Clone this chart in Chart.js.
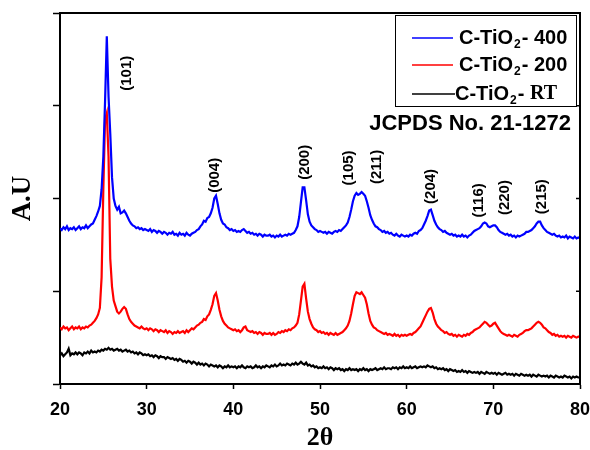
<!DOCTYPE html>
<html>
<head>
<meta charset="utf-8">
<script src="https://cdn.jsdelivr.net/npm/chart.js@4.4.0/dist/chart.umd.min.js"></script>
<style>
  body { margin: 0; background: #fff; }
  canvas { display: block; }
</style>
</head>
<body>
<canvas id="xrd" width="590" height="450"></canvas>
<script>
// 2-theta sampling grid, 20..80 deg every 0.2 deg
const twoTheta = [];
for (let i = 0; i <= 300; i++) twoTheta.push(+(20 + i * 0.2).toFixed(1));

// intensities (arbitrary units, stacked)
const c400 = [
  1.68,1.66,1.69,1.67,1.70,1.66,1.68,1.67,1.69,1.66,
  1.68,1.70,1.67,1.69,1.68,1.71,1.68,1.70,1.72,1.73,
  1.77,1.81,1.86,1.92,2.10,2.45,3.05,3.75,3.10,2.70,
  2.23,2.00,1.92,1.88,1.91,1.84,1.85,1.87,1.84,1.80,
  1.76,1.73,1.71,1.70,1.68,1.69,1.67,1.68,1.66,1.67,
  1.66,1.65,1.67,1.64,1.66,1.65,1.63,1.65,1.64,1.62,
  1.64,1.63,1.61,1.63,1.62,1.64,1.61,1.62,1.60,1.63,
  1.61,1.62,1.60,1.63,1.61,1.60,1.62,1.63,1.64,1.66,
  1.67,1.70,1.72,1.76,1.75,1.79,1.80,1.84,1.90,2.00,
  2.03,1.94,1.84,1.77,1.73,1.72,1.69,1.68,1.66,1.67,
  1.65,1.66,1.64,1.65,1.64,1.66,1.67,1.65,1.63,1.64,
  1.62,1.63,1.61,1.62,1.60,1.62,1.61,1.59,1.61,1.60,
  1.60,1.61,1.59,1.60,1.58,1.60,1.59,1.61,1.59,1.60,
  1.61,1.60,1.62,1.61,1.62,1.63,1.66,1.70,1.80,1.96,
  2.12,2.12,1.98,1.83,1.75,1.71,1.69,1.67,1.66,1.64,
  1.65,1.64,1.63,1.64,1.62,1.64,1.63,1.62,1.64,1.65,
  1.64,1.66,1.65,1.67,1.69,1.71,1.74,1.80,1.88,1.97,
  2.03,2.06,2.04,2.05,2.07,2.05,2.03,1.97,1.90,1.82,
  1.77,1.73,1.70,1.69,1.67,1.66,1.64,1.65,1.63,1.64,
  1.62,1.63,1.61,1.60,1.62,1.60,1.59,1.61,1.60,1.59,
  1.60,1.59,1.61,1.60,1.62,1.63,1.62,1.65,1.66,1.68,
  1.72,1.76,1.81,1.87,1.88,1.82,1.76,1.72,1.69,1.67,
  1.66,1.64,1.65,1.63,1.62,1.61,1.62,1.60,1.61,1.59,
  1.60,1.59,1.61,1.59,1.60,1.58,1.60,1.61,1.63,1.65,
  1.66,1.67,1.68,1.70,1.73,1.74,1.73,1.70,1.69,1.70,
  1.71,1.71,1.69,1.66,1.64,1.63,1.62,1.61,1.62,1.60,
  1.61,1.59,1.60,1.58,1.60,1.59,1.60,1.61,1.62,1.64,
  1.64,1.65,1.66,1.68,1.70,1.73,1.75,1.75,1.71,1.68,
  1.66,1.64,1.63,1.62,1.61,1.62,1.60,1.59,1.60,1.58,
  1.59,1.58,1.60,1.57,1.59,1.58,1.57,1.59,1.57,1.58,
  1.57
];

const c200 = [
  0.61,0.59,0.62,0.60,0.61,0.58,0.60,0.62,0.59,0.61,
  0.60,0.62,0.59,0.61,0.60,0.62,0.61,0.63,0.64,0.66,
  0.68,0.71,0.75,0.82,1.15,2.10,2.85,2.92,2.45,1.35,
  1.05,0.90,0.84,0.78,0.76,0.78,0.81,0.83,0.81,0.75,
  0.70,0.67,0.65,0.63,0.62,0.61,0.60,0.62,0.60,0.59,
  0.60,0.58,0.60,0.59,0.57,0.59,0.58,0.56,0.58,0.57,
  0.56,0.58,0.55,0.57,0.56,0.54,0.56,0.55,0.57,0.55,
  0.56,0.57,0.55,0.58,0.56,0.58,0.60,0.59,0.61,0.63,
  0.64,0.66,0.67,0.70,0.69,0.73,0.75,0.80,0.86,0.95,
  0.98,0.90,0.80,0.73,0.68,0.65,0.63,0.61,0.60,0.59,
  0.58,0.59,0.57,0.58,0.56,0.58,0.61,0.62,0.58,0.57,
  0.56,0.57,0.55,0.56,0.54,0.56,0.55,0.53,0.55,0.54,
  0.54,0.55,0.53,0.55,0.53,0.54,0.56,0.55,0.57,0.56,
  0.58,0.57,0.59,0.58,0.60,0.61,0.63,0.66,0.75,0.90,
  1.05,1.08,0.92,0.78,0.70,0.65,0.61,0.59,0.58,0.56,
  0.57,0.55,0.56,0.54,0.55,0.53,0.55,0.54,0.53,0.55,
  0.53,0.54,0.55,0.56,0.58,0.60,0.63,0.68,0.76,0.86,
  0.95,0.99,0.98,0.97,0.99,0.96,0.93,0.86,0.76,0.68,
  0.64,0.61,0.60,0.58,0.57,0.56,0.55,0.54,0.55,0.53,
  0.54,0.53,0.52,0.54,0.52,0.53,0.51,0.53,0.52,0.53,
  0.52,0.53,0.54,0.53,0.55,0.56,0.58,0.60,0.62,0.66,
  0.70,0.74,0.78,0.81,0.82,0.77,0.70,0.65,0.62,0.60,
  0.58,0.57,0.55,0.56,0.54,0.53,0.54,0.52,0.53,0.51,
  0.53,0.52,0.51,0.53,0.52,0.54,0.53,0.55,0.56,0.58,
  0.59,0.60,0.61,0.63,0.65,0.67,0.66,0.64,0.62,0.63,
  0.65,0.66,0.63,0.60,0.57,0.55,0.54,0.53,0.52,0.53,
  0.52,0.51,0.53,0.52,0.51,0.53,0.54,0.55,0.57,0.58,
  0.58,0.59,0.60,0.62,0.64,0.66,0.67,0.66,0.64,0.61,
  0.60,0.58,0.56,0.55,0.53,0.54,0.52,0.53,0.51,0.52,
  0.51,0.52,0.50,0.52,0.51,0.50,0.52,0.51,0.50,0.51,
  0.51
];

const cRT = [
  0.31,0.33,0.30,0.32,0.34,0.38,0.31,0.33,0.32,0.34,
  0.32,0.34,0.33,0.31,0.34,0.33,0.35,0.33,0.36,0.34,
  0.35,0.34,0.36,0.35,0.37,0.36,0.38,0.37,0.39,0.37,
  0.38,0.36,0.37,0.38,0.36,0.37,0.35,0.36,0.37,0.35,
  0.36,0.34,0.35,0.33,0.34,0.32,0.34,0.33,0.31,0.32,
  0.31,0.32,0.30,0.31,0.29,0.31,0.30,0.28,0.30,0.29,
  0.29,0.27,0.29,0.28,0.27,0.28,0.26,0.27,0.25,0.27,
  0.26,0.24,0.25,0.23,0.25,0.24,0.22,0.24,0.23,0.21,
  0.23,0.21,0.22,0.20,0.22,0.21,0.19,0.21,0.20,0.19,
  0.20,0.18,0.20,0.19,0.17,0.19,0.18,0.20,0.18,0.19,
  0.18,0.19,0.17,0.19,0.18,0.20,0.18,0.17,0.19,0.18,
  0.19,0.17,0.18,0.20,0.18,0.19,0.17,0.19,0.18,0.20,
  0.19,0.18,0.20,0.19,0.21,0.19,0.20,0.22,0.20,0.21,
  0.20,0.22,0.21,0.20,0.22,0.21,0.23,0.21,0.22,0.24,
  0.22,0.21,0.23,0.20,0.21,0.19,0.20,0.18,0.19,0.17,
  0.18,0.17,0.19,0.17,0.18,0.16,0.18,0.17,0.15,0.17,
  0.16,0.17,0.15,0.16,0.14,0.16,0.15,0.17,0.15,0.16,
  0.15,0.16,0.14,0.16,0.15,0.17,0.15,0.16,0.14,0.16,
  0.15,0.16,0.17,0.15,0.16,0.17,0.16,0.18,0.16,0.17,
  0.17,0.16,0.18,0.17,0.18,0.16,0.18,0.17,0.19,0.17,
  0.18,0.17,0.19,0.17,0.18,0.19,0.17,0.18,0.19,0.18,
  0.19,0.18,0.20,0.19,0.18,0.19,0.17,0.18,0.16,0.17,
  0.16,0.17,0.15,0.16,0.14,0.16,0.15,0.14,0.15,0.13,
  0.14,0.13,0.15,0.13,0.14,0.12,0.14,0.13,0.12,0.13,
  0.12,0.13,0.11,0.13,0.12,0.11,0.13,0.12,0.11,0.12,
  0.11,0.12,0.10,0.12,0.11,0.10,0.11,0.12,0.10,0.11,
  0.10,0.11,0.09,0.11,0.10,0.09,0.11,0.10,0.09,0.10,
  0.09,0.10,0.08,0.10,0.09,0.08,0.10,0.09,0.08,0.09,
  0.08,0.09,0.07,0.09,0.08,0.07,0.09,0.08,0.07,0.08,
  0.07,0.09,0.08,0.07,0.08,0.06,0.08,0.07,0.08,0.07,
  0.07
];

const seriesLabels = ['C-TiO₂- 400', 'C-TiO₂- 200', 'C-TiO₂- RT'];
const seriesColors = ['#0000ff', '#ff0000', '#000000'];

// hkl reflections: label, 2-theta and height where the text sits
const hklLabels = ['(101)', '(004)', '(200)', '(105)', '(211)', '(204)', '(116)', '(220)', '(215)'];
const hklTheta  = [27.7, 37.85, 48.25, 53.35, 56.6, 62.8, 68.35, 71.35, 75.6];
const hklLevel  = [3.35, 2.25, 2.39, 2.33, 2.34, 2.13, 1.98, 2.01, 2.02];

const xTicks = [20, 30, 40, 50, 60, 70, 80];

const toPoints = ys => twoTheta.map((t, i) => ({ x: t, y: ys[i] }));

const SANS = 'Arial, "Liberation Sans", sans-serif';
const SERIF = '"Times New Roman", "Liberation Serif", serif';

// frame, legend box and the text annotations
const decorations = {
  id: 'decorations',
  afterDraw(chart) {
    const { ctx, chartArea: a, scales: { x, y } } = chart;
    ctx.save();

    // top + right border, short inward ticks on the right
    ctx.strokeStyle = '#000';
    ctx.lineWidth = 2;
    ctx.beginPath();
    ctx.moveTo(a.left, a.top);
    ctx.lineTo(a.right, a.top);
    ctx.lineTo(a.right, a.bottom);
    ctx.stroke();
    ctx.lineWidth = 1.5;
    [1, 2, 3].forEach(v => {
      const py = y.getPixelForValue(v);
      ctx.beginPath();
      ctx.moveTo(a.right - 4, py);
      ctx.lineTo(a.right, py);
      ctx.stroke();
    });

    // hkl labels, rotated
    ctx.fillStyle = '#000';
    ctx.font = 'bold 15px ' + SANS;
    ctx.textAlign = 'center';
    ctx.textBaseline = 'middle';
    hklLabels.forEach((txt, i) => {
      ctx.save();
      ctx.translate(x.getPixelForValue(hklTheta[i]), y.getPixelForValue(hklLevel[i]));
      ctx.rotate(-Math.PI / 2);
      ctx.fillText(txt, 0, 0);
      ctx.restore();
    });

    // JCPDS card
    ctx.font = 'bold 22px ' + SANS;
    ctx.textAlign = 'right';
    ctx.fillText('JCPDS No. 21-1272', a.right - 9, a.top + 111);

    // legend box
    const bx = a.right - 185, by = a.top + 2, bw = 181, bh = 91;
    ctx.lineWidth = 1;
    ctx.strokeRect(bx + 0.5, by + 0.5, bw, bh);
    const rowY = [by + 23, by + 50, by + 79];
    chart.data.datasets.forEach((ds, i) => {
      const ly = rowY[i];
      const lineEnd = i === 2 ? bx + 60 : bx + 58;
      ctx.strokeStyle = ds.borderColor;
      ctx.lineWidth = 1.5;
      ctx.beginPath();
      ctx.moveTo(bx + 17, ly);
      ctx.lineTo(lineEnd, ly);
      ctx.stroke();

      const [head, tail] = ds.label.split('₂');
      let tx = i === 2 ? lineEnd : bx + 64;
      ctx.fillStyle = '#000';
      ctx.textAlign = 'left';
      ctx.textBaseline = 'middle';
      ctx.font = 'bold 20px ' + SANS;
      ctx.fillText(head, tx, ly);
      tx += ctx.measureText(head).width;
      ctx.font = 'bold 12px ' + SANS;
      ctx.fillText('2', tx + 1, ly + 7);
      tx += ctx.measureText('2').width + 2;
      ctx.font = 'bold 20px ' + SANS;
      if (i === 2) {
        const dash = tail.replace('RT', '');
        ctx.fillText(dash, tx, ly);
        tx += ctx.measureText(dash).width;
        ctx.font = 'bold 20px ' + SERIF;
        ctx.fillText('RT', tx, ly);
      } else {
        ctx.fillText(tail, tx, ly);
      }
    });
    ctx.restore();
  }
};

new Chart(document.getElementById('xrd'), {
  type: 'line',
  data: {
    datasets: [c400, c200, cRT].map((ys, i) => ({
      label: seriesLabels[i],
      data: toPoints(ys),
      borderColor: seriesColors[i],
      borderWidth: 2.2,
      pointRadius: 0,
      tension: 0,
      fill: false
    }))
  },
  options: {
    responsive: false,
    animation: false,
    devicePixelRatio: 1,
    layout: { padding: { top: 13, right: 0, left: 0, bottom: 0 } },
    plugins: { legend: { display: false }, tooltip: { enabled: false } },
    scales: {
      x: {
        type: 'linear',
        min: 20,
        max: 80,
        afterBuildTicks: s => { s.ticks = xTicks.map(v => ({ value: v })); },
        afterFit: s => { s.height = 66; s.paddingRight = 10; },
        ticks: {
          color: '#000',
          padding: 10,
          maxRotation: 0,
          font: { family: SANS, size: 18, weight: 'bold' }
        },
        grid: { drawOnChartArea: false, drawTicks: true, tickLength: 5, tickColor: '#000', tickWidth: 1.5 },
        border: { display: true, color: '#000', width: 2 },
        title: {
          display: true,
          text: '2θ',
          color: '#000',
          padding: 0,
          font: { family: SERIF, size: 26, weight: 'bold', lineHeight: 0.92 }
        }
      },
      y: {
        min: 0,
        max: 4,
        ticks: { stepSize: 1, display: false },
        afterFit: s => { s.width = 60; },
        grid: { drawOnChartArea: false, drawTicks: true, tickLength: 7, tickColor: '#000', tickWidth: 1.5 },
        border: { display: true, color: '#000', width: 2 },
        title: {
          display: true,
          text: 'A.U',
          color: '#000',
          padding: { top: 7, bottom: 0 },
          font: { family: SERIF, size: 27, weight: 'bold' }
        }
      }
    }
  },
  plugins: [decorations]
});
</script>
</body>
</html>
